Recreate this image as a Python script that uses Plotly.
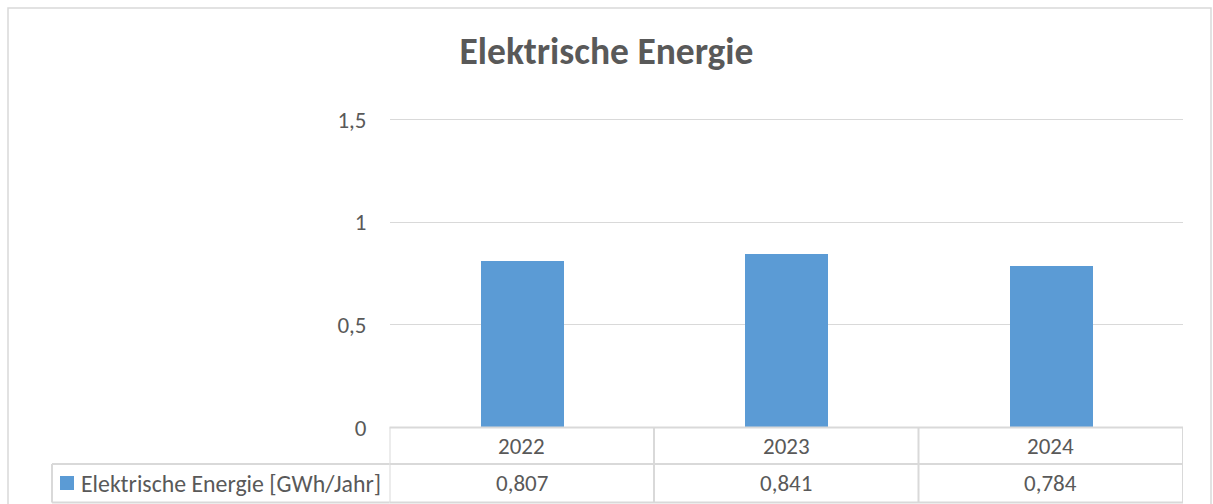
import plotly.graph_objects as go

categories = ["2022", "2023", "2024"]
values = [0.807, 0.841, 0.784]
series_name = "Elektrische Energie [GWh/Jahr]"
title_text = "Elektrische Energie"
y_ticks = [0, 0.5, 1, 1.5]

W, H = 1213, 504
FONT = "Carlito, Calibri, Lato, sans-serif"
TXT = "#595959"
GRID = "#D9D9D9"
BAR = "#5B9BD5"

def px(x):
    return x / W

def py(y):
    return (H - y) / H

x_left, x_right = 389.5, 1183
y_zero, y_onehalf = 427.5, 119.5
row_mid, row_bot = 464, 502.5
y_max = 1.52
unit = (y_zero - y_onehalf) / 1.5
y_top = y_zero - y_max * unit

fig = go.Figure()
fig.add_trace(go.Bar(
    x=list(range(len(categories))), y=values, name=series_name,
    marker=dict(color=BAR, line=dict(width=0)), width=0.313, showlegend=False,
    hoverinfo="skip",
))

fig.update_layout(
    width=W, height=H, margin=dict(l=0, r=0, t=0, b=0, pad=0), autosize=False,
    paper_bgcolor="white", plot_bgcolor="white",
    separators=",.",
    font=dict(family=FONT, color=TXT, size=24),
    title=dict(text="<b>" + title_text + "</b>", x=0.5, xanchor="center",
               y=py(51), yanchor="middle", font=dict(size=37.5, color=TXT, family=FONT)),
    xaxis=dict(domain=[px(x_left), px(x_right)], range=[-0.5, len(categories) - 0.5],
               showticklabels=False, showgrid=False, zeroline=False, showline=False,
               fixedrange=True, automargin=False),
    yaxis=dict(domain=[py(y_zero), py(y_top)], range=[0, y_max], tickvals=y_ticks,
               showgrid=True, gridcolor=GRID, gridwidth=1.3, zeroline=False, showline=False,
               ticks="", ticklabelstandoff=22, tickfont=dict(size=23, color=TXT),
               automargin=False, fixedrange=True),
    bargap=0,
)

shapes = []
shapes.append(dict(type="rect", xref="paper", yref="paper", x0=px(8), x1=px(1211),
                   y0=-0.05, y1=py(8), line=dict(color=GRID, width=1.5), layer="below"))
line = dict(color=GRID, width=2)
for yy in [y_zero, row_mid, row_bot]:
    shapes.append(dict(type="line", xref="paper", yref="paper", x0=px(x_left), x1=px(x_right),
                       y0=py(yy), y1=py(yy), line=line))
shapes.append(dict(type="line", xref="paper", yref="paper", x0=px(52), x1=px(x_left),
                   y0=py(row_mid), y1=py(row_mid), line=line))
shapes.append(dict(type="line", xref="paper", yref="paper", x0=px(52), x1=px(x_left),
                   y0=py(row_bot), y1=py(row_bot), line=line))
shapes.append(dict(type="line", xref="paper", yref="paper", x0=px(52), x1=px(52),
                   y0=py(row_mid), y1=py(row_bot), line=line))
for i in range(len(categories) + 1):
    shapes.append(dict(type="line", xref="x", yref="paper", x0=i - 0.5, x1=i - 0.5,
                       y0=py(y_zero), y1=py(row_bot), line=line))
shapes.append(dict(type="rect", xref="paper", yref="paper", x0=px(60), x1=px(74),
                   y0=py(490), y1=py(476), fillcolor=BAR, line=dict(width=0)))
fig.update_layout(shapes=shapes)

ann = []
for i, (c, v) in enumerate(zip(categories, values)):
    ann.append(dict(x=i, xref="x", y=py((y_zero + row_mid) / 2), yref="paper", text=c,
                    showarrow=False, font=dict(size=23, color=TXT), xanchor="center", yanchor="middle"))
    ann.append(dict(x=i, xref="x", y=py((row_mid + row_bot) / 2), yref="paper",
                    text=f"{v:.3f}".replace(".", ","),
                    showarrow=False, font=dict(size=23, color=TXT), xanchor="center", yanchor="middle"))
ann.append(dict(x=px(79), xref="paper", y=py((row_mid + row_bot) / 2), yref="paper", text=series_name,
                showarrow=False, font=dict(size=23.8, color=TXT), xanchor="left", yanchor="middle"))
fig.update_layout(annotations=ann)

fig.write_html("out.html", config={"responsive": False, "displayModeBar": False},
               post_script="document.body.style.margin='0';document.body.style.overflow='hidden';")
